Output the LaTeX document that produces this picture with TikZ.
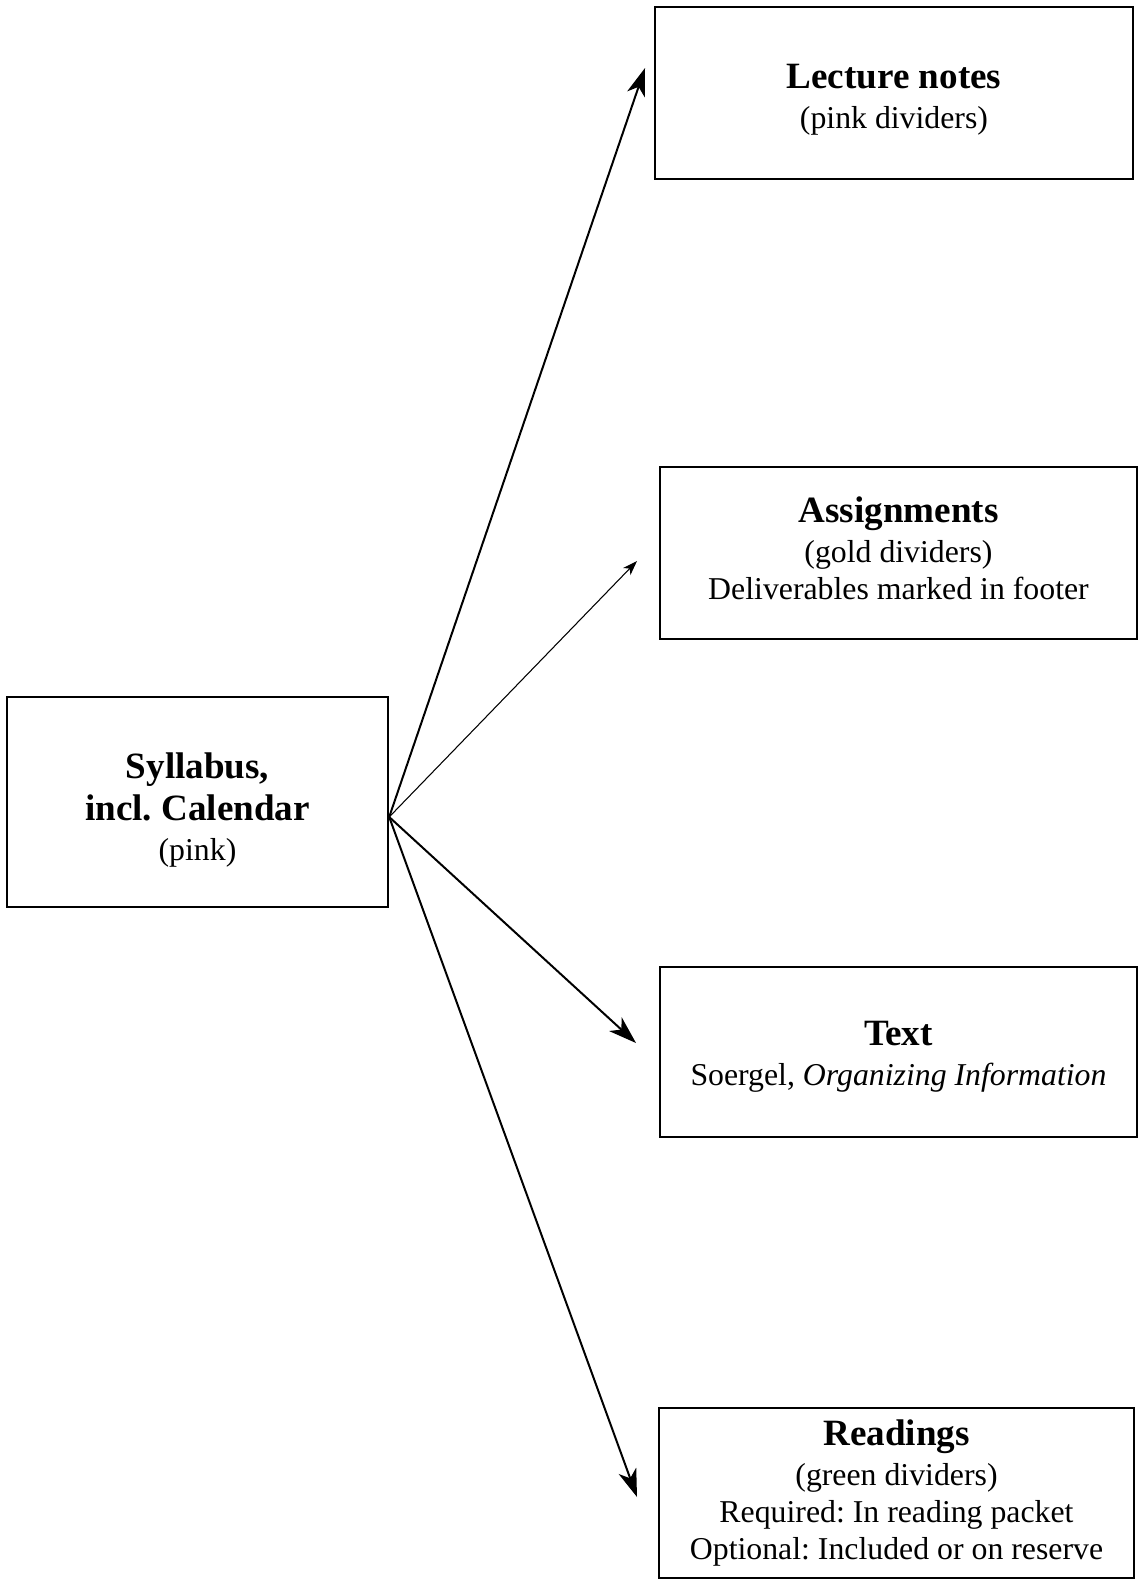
\documentclass[tikz,border=0pt]{standalone}
\usepackage{fontspec}
\setmainfont{Liberation Serif}
\usetikzlibrary{arrows.meta}
\frenchspacing
\newcommand{\px}{0.3774pt}
\newcommand{\hd}[1]{{\fontsize{14}{16}\selectfont\bfseries #1}}

\begin{document}
\begin{tikzpicture}[x=0.3774pt,y=-0.3774pt,
    >={Stealth[length=10.5pt,width=7pt,inset=3pt]},
    blk/.style={rectangle, draw, line width=0.9pt, inner sep=0pt, align=center,
      font=\fontsize{12}{14.1}\selectfont}]
      \useasboundingbox (0,0) rectangle (1138,1579);
      \node[blk, minimum width=381*\px, minimum height=210*\px] at (197.5,802) (syl)
        {\rule{0pt}{15.7pt}\hd{Syllabus,}\\[2pt] \hd{incl. Calendar}\\[1pt] (pink)};
      \node[blk, minimum width=478*\px, minimum height=172*\px] at (894,93) (lect)
        {\rule{0pt}{14pt}\hd{Lecture notes}\\[1pt] (pink dividers)};
      \node[blk, minimum width=477*\px, minimum height=172*\px] at (898.5,553) (assign)
        {\hd{Assignments}\\[1pt] (gold dividers)\\ Deliverables marked in footer\rule[-3.8pt]{0pt}{0pt}};
      \node[blk, minimum width=477*\px, minimum height=170*\px] at (898.5,1052) (txt)
        {\rule{0pt}{13.1pt}\hd{Text}\\[1pt] Soergel, \textit{Organizing Information}};
      \node[blk, minimum width=475*\px, minimum height=170*\px] at (896.5,1493) (read)
        {\hd{Readings}\\[1pt] (green dividers)\\ Required: In reading packet\\ Optional: Included or on reserve};
      \coordinate (hub) at ([yshift=-15*\px]syl.east);
      \coordinate (tolect) at (645,68);
      \coordinate (toassign) at (637,561);
      \coordinate (totxt) at (636,1043);
      \coordinate (toread) at (637,1497);
      \draw[->,line width=0.75pt] (hub) -- (tolect);
      \draw[-{Stealth[length=5.5pt,width=3.8pt,inset=1.5pt]},line width=0.4pt] (hub) -- (toassign);
      \draw[->,line width=0.75pt] (hub) -- (totxt);
      \draw[->,line width=0.75pt] (hub) -- (toread);
\end{tikzpicture}
\end{document}
